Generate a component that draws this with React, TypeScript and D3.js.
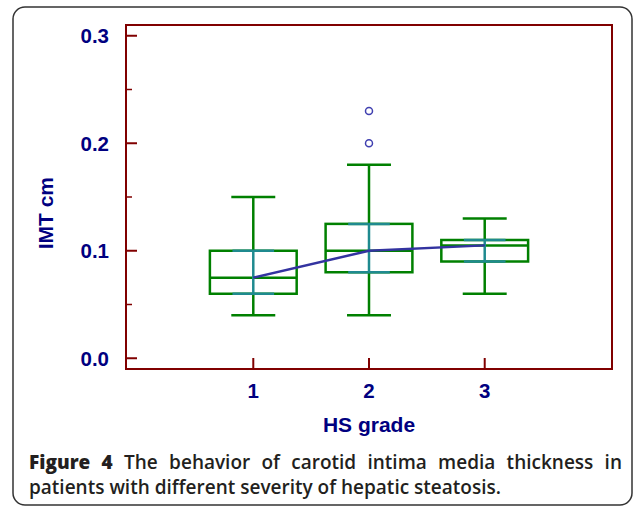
import React, { useEffect, useRef } from "react";
import * as d3 from "d3";

// HS grade categories and box statistics (IMT, cm)
const grades = [1, 2, 3];
const whiskerLow = [0.04, 0.04, 0.06];
const q1 = [0.06, 0.08, 0.09];
const medians = [0.075, 0.1, 0.105];
const q3 = [0.1, 0.125, 0.11];
const whiskerHigh = [0.15, 0.18, 0.13];
const outliers = [
  { grade: 2, value: 0.2 },
  { grade: 2, value: 0.23 },
];
const yTicks = [0, 0.1, 0.2, 0.3];
const yMinorTicks = [0.05, 0.15, 0.25];

const W = 637;
const H = 507;
const frame = { left: 126, right: 612, top: 25, bottom: 369 };

const navy = "#000080";
const frameColor = "#800000";
const green = "#008000";
const teal = "#1f8a8f";
const blue = "#3333a0";

export default function App() {
  const line1Ref = useRef<SVGTextElement>(null);

  const x = d3.scaleLinear().domain([-0.1, 4.1]).range([frame.left, frame.right]);
  const y = d3.scaleLinear().domain([-0.01, 0.31]).range([frame.bottom, frame.top]);

  const boxHalf = x(1.375) - x(1);
  const capHalf = x(1.19) - x(1);
  const tealHalf = x(1.18) - x(1);

  const line = d3
    .line<number>()
    .x((_, i) => x(grades[i]))
    .y((d) => y(d));

  // justify the first caption line by widening the spaces
  useEffect(() => {
    const el = line1Ref.current;
    if (!el) return;
    el.setAttribute("word-spacing", "0");
    const natural = el.getComputedTextLength();
    const target = 593;
    const gaps = 9;
    const extra = (target - natural) / gaps;
    if (extra > 0) el.setAttribute("word-spacing", String(extra));
  }, []);

  const axisFont = "Arial, 'Liberation Sans', sans-serif";
  const capFont = "'Open Sans', sans-serif";

  return (
    <div style={{ position: "absolute", left: 0, top: 0 }}>
      <svg width={W} height={H} style={{ display: "block" }}>
        <rect x={0} y={0} width={W} height={H} fill="#fff" />
        <rect x={13} y={7} width={619} height={498} rx={12} ry={12} fill="none" stroke="#333" strokeWidth={1.5} />

        {/* frame */}
        <rect
          x={frame.left}
          y={frame.top}
          width={frame.right - frame.left}
          height={frame.bottom - frame.top}
          fill="none"
          stroke={frameColor}
          strokeWidth={2}
        />

        {/* y ticks */}
        {yTicks.map((t) => (
          <g key={t}>
            <line x1={frame.left} x2={frame.left + 11} y1={y(t)} y2={y(t)} stroke={frameColor} strokeWidth={2} />
            <text
              x={109}
              y={y(t)}
              dy="0.36em"
              textAnchor="end"
              fontFamily={axisFont}
              fontWeight="bold"
              fontSize={20.5}
              fill={navy}
            >
              {d3.format(".1f")(t)}
            </text>
          </g>
        ))}
        {yMinorTicks.map((t) => (
          <line key={t} x1={frame.left} x2={frame.left + 6} y1={y(t)} y2={y(t)} stroke={frameColor} strokeWidth={1.5} />
        ))}

        {/* x ticks */}
        {grades.map((g) => (
          <g key={g}>
            <line x1={x(g)} x2={x(g)} y1={frame.bottom} y2={frame.bottom - 11} stroke={frameColor} strokeWidth={2} />
            <text
              x={x(g)}
              y={391}
              dy="0.36em"
              textAnchor="middle"
              fontFamily={axisFont}
              fontWeight="bold"
              fontSize={20.5}
              fill={navy}
            >
              {g}
            </text>
          </g>
        ))}

        {/* axis titles */}
        <text
          x={369}
          y={424}
          dy="0.36em"
          textAnchor="middle"
          fontFamily={axisFont}
          fontWeight="bold"
          fontSize={21}
          fill={navy}
        >
          HS grade
        </text>
        <text
          transform={`translate(45,${y(0.135)}) rotate(-90)`}
          dy="0.36em"
          textAnchor="middle"
          fontFamily={axisFont}
          fontWeight="bold"
          fontSize={21}
          fill={navy}
        >
          IMT cm
        </text>

        {/* boxes */}
        {grades.map((g, i) => {
          const cx = x(g);
          return (
            <g key={g} fill="none" strokeWidth={2.5}>
              <line x1={cx} x2={cx} y1={y(whiskerHigh[i])} y2={y(q3[i])} stroke={green} />
              <line x1={cx} x2={cx} y1={y(q1[i])} y2={y(whiskerLow[i])} stroke={green} />
              <line x1={cx - capHalf} x2={cx + capHalf} y1={y(whiskerHigh[i])} y2={y(whiskerHigh[i])} stroke={green} />
              <line x1={cx - capHalf} x2={cx + capHalf} y1={y(whiskerLow[i])} y2={y(whiskerLow[i])} stroke={green} />
              <rect x={cx - boxHalf} y={y(q3[i])} width={2 * boxHalf} height={y(q1[i]) - y(q3[i])} stroke={green} />
              <line x1={cx - boxHalf} x2={cx + boxHalf} y1={y(medians[i])} y2={y(medians[i])} stroke={green} />
              <line x1={cx} x2={cx} y1={y(q3[i])} y2={y(q1[i])} stroke={teal} />
              <line x1={cx - tealHalf} x2={cx + tealHalf} y1={y(q3[i])} y2={y(q3[i])} stroke={teal} />
              <line x1={cx - tealHalf} x2={cx + tealHalf} y1={y(q1[i])} y2={y(q1[i])} stroke={teal} />
            </g>
          );
        })}

        {/* median line */}
        <path d={line(medians) || ""} fill="none" stroke={blue} strokeWidth={2.5} />

        {/* outliers */}
        {outliers.map((o, i) => (
          <circle key={i} cx={x(o.grade)} cy={y(o.value)} r={3.5} fill="none" stroke="#4040b0" strokeWidth={1.5} />
        ))}

        {/* caption */}
        <text ref={line1Ref} x={29} y={469} fontFamily={capFont} fontSize={19} fontWeight={600} fill="#231f20">
          <tspan fontWeight={800}>Figure 4</tspan> The behavior of carotid intima media thickness in
        </text>
        <text x={29} y={494} fontFamily={capFont} fontSize={19} fontWeight={600} fill="#231f20">
          patients with different severity of hepatic steatosis.
        </text>
      </svg>
    </div>
  );
}
